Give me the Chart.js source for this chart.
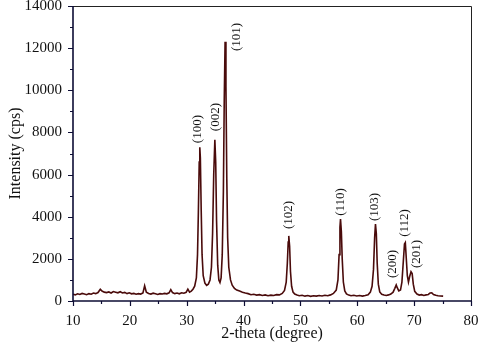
<!DOCTYPE html>
<html lang="en">
<head>
<meta charset="utf-8">
<title>XRD pattern</title>
<script src="https://cdn.jsdelivr.net/npm/chart.js"></script>
<style>
  html, body { margin: 0; padding: 0; background: #fff; }
  #xrdChart { display: block; }
</style>
</head>
<body>
<canvas id="xrdChart" width="478" height="352"></canvas>
<script>
const twoTheta = [
  10.0, 10.4, 10.8, 11.2, 11.6, 12.0, 12.4, 12.8, 13.2, 13.6, 14.0, 14.4, 14.8, 15.1, 15.5, 15.9,
  16.3, 16.7, 17.1, 17.5, 17.9, 18.3, 18.7, 19.1, 19.5, 19.9, 20.3, 20.7, 21.1, 21.5, 21.9, 22.3,
  22.6, 22.9, 23.3, 23.7, 24.1, 24.5, 24.9, 25.3, 25.7, 26.1, 26.5, 26.9, 27.2, 27.5, 27.9, 28.3,
  28.7, 29.1, 29.5, 29.9, 30.2, 30.5, 30.8, 31.1, 31.4, 31.7, 31.9, 32.05, 32.2, 32.3, 32.4, 32.55,
  32.7, 32.9, 33.2, 33.5, 33.8, 34.1, 34.35, 34.55, 34.75, 34.95, 35.1, 35.25, 35.45, 35.65, 35.85,
  36.05, 36.25, 36.45, 36.6, 36.75, 36.9, 37.05, 37.2, 37.4, 37.7, 38.0, 38.4, 38.8, 39.3, 39.8,
  40.3, 40.8, 41.3, 41.8, 42.3, 42.8, 43.3, 43.8, 44.3, 44.8, 45.3, 45.8, 46.3, 46.8, 47.2, 47.5,
  47.7, 47.85, 47.95, 48.1, 48.25, 48.45, 48.7, 49.0, 49.4, 49.8, 50.3, 50.8, 51.3, 51.8, 52.3,
  52.8, 53.3, 53.8, 54.3, 54.8, 55.3, 55.8, 56.3, 56.6, 56.8, 56.95, 57.05, 57.2, 57.35, 57.55,
  57.8, 58.1, 58.5, 58.9, 59.4, 59.9, 60.4, 60.9, 61.4, 61.9, 62.3, 62.6, 62.85, 63.05, 63.2,
  63.35, 63.5, 63.7, 63.95, 64.3, 64.7, 65.1, 65.5, 65.9, 66.3, 66.6, 66.85, 67.05, 67.3, 67.6,
  67.85, 68.1, 68.3, 68.45, 68.6, 68.8, 69.0, 69.2, 69.45, 69.65, 69.85, 70.1, 70.5, 70.9, 71.3,
  71.7, 72.1, 72.5, 72.8, 73.1, 73.4, 73.8, 74.2, 74.6, 75.1
];
const intensity = [
  320, 290, 340, 310, 360, 330, 300, 350, 320, 380, 350, 400, 560, 470, 420, 400,
  430, 380, 450, 420, 390, 440, 380, 410, 350, 390, 340, 360, 320, 350, 330, 380,
  720, 420, 360, 330, 370, 340, 310, 350, 330, 360, 340, 390, 540, 400, 350, 380,
  340, 390, 370, 410, 560, 420, 470, 560, 700, 1100, 2200, 4200, 6600, 7300, 6800, 4300,
  2200, 1200, 850, 740, 800, 1000, 1600, 3200, 6000, 7650, 6600, 3800, 1700, 1000, 880,
  1100, 2200, 5200, 9500, 12300, 10200, 5800, 3000, 1600, 1000, 750, 600, 520, 470, 420,
  380, 350, 300, 320, 280, 300, 260, 290, 250, 280, 260, 300, 290, 360, 500, 900,
  1800, 2800, 3090, 2600, 1400, 700, 420, 330, 280, 250, 270, 230, 260, 220, 250,
  230, 260, 240, 270, 250, 290, 360, 520, 1000, 2200, 3500, 3890, 3300, 2000, 900,
  480, 340, 280, 250, 270, 240, 260, 230, 260, 300, 420, 700, 1500, 3000, 3650,
  3200, 1800, 800, 430, 320, 280, 260, 290, 330, 420, 600, 760, 620, 480, 520,
  900, 1900, 2700, 2770, 2100, 1200, 900, 1150, 1390, 1300, 800, 460, 330, 280, 300,
  260, 290, 310, 380, 390, 310, 270, 250, 240, 230
];

// Miller indices and where their labels sit (2-theta, intensity at label centre)
const peakLabels = ['(100)', '(002)', '(101)', '(102)', '(110)', '(103)', '(200)', '(112)', '(201)'];
const labelTheta = [31.9, 35.1, 38.7, 48.0, 57.1, 63.1, 66.2, 68.4, 70.45];
const labelIntensity = [8160, 8730, 12530, 4080, 4700, 4460, 1760, 3700, 2230];

const xTicks = [10, 20, 30, 40, 50, 60, 70, 80];
const yTicks = [0, 2000, 4000, 6000, 8000, 10000, 12000, 14000];

const serif = '"Liberation Serif", "DejaVu Serif", serif';
const axisColor = '#0d0d35';

// frame, major/minor ticks and the peak labels
const xrdDecor = {
    id: 'xrdDecor',
    afterDatasetsDraw(chart) {
        const { ctx, chartArea: a, scales: { x, y } } = chart;
        ctx.save();

        // top and right frame
        ctx.strokeStyle = '#222';
        ctx.lineWidth = 1;
        ctx.beginPath();
        ctx.moveTo(a.left, a.top + 0.5);
        ctx.lineTo(a.right + 0.5, a.top + 0.5);
        ctx.lineTo(a.right + 0.5, a.bottom);
        ctx.stroke();

        // left and bottom axes
        ctx.strokeStyle = axisColor;
        ctx.lineWidth = 1.6;
        ctx.beginPath();
        ctx.moveTo(a.left, a.top);
        ctx.lineTo(a.left, a.bottom);
        ctx.lineTo(a.right + 1, a.bottom);
        ctx.stroke();

        // tick marks
        ctx.lineWidth = 1.2;
        ctx.beginPath();
        for (let v = 10; v <= 80; v += 5) {
            const px = Math.round(x.getPixelForValue(v)) + 0.5;
            const len = v % 10 === 0 ? 5 : 3;
            ctx.moveTo(px, a.bottom);
            ctx.lineTo(px, a.bottom + len);
        }
        for (let v = 0; v <= 14000; v += 1000) {
            const py = Math.round(y.getPixelForValue(v)) + 0.5;
            const len = v % 2000 === 0 ? 5 : 3;
            ctx.moveTo(a.left, py);
            ctx.lineTo(a.left - len, py);
        }
        ctx.stroke();

        // peak labels, rotated
        ctx.fillStyle = '#111';
        ctx.font = '13px ' + serif;
        ctx.textAlign = 'center';
        ctx.textBaseline = 'middle';
        peakLabels.forEach((txt, i) => {
            const px = x.getPixelForValue(labelTheta[i]);
            const py = y.getPixelForValue(labelIntensity[i]);
            ctx.save();
            ctx.translate(px, py);
            ctx.rotate(-Math.PI / 2);
            ctx.fillText(txt, 0, 0);
            ctx.restore();
        });

        ctx.restore();
    }
};

const ctx = document.getElementById('xrdChart').getContext('2d');
new Chart(ctx, {
    type: 'line',
    data: {
        datasets: [{
            data: twoTheta.map((t, i) => ({ x: t, y: intensity[i] })),
            borderColor: '#4a0b0b',
            borderWidth: 1.6,
            pointRadius: 0,
            tension: 0,
            fill: false
        }]
    },
    options: {
        responsive: false,
        animation: false,
        layout: { padding: { top: 6, right: 7, left: 0, bottom: 0 } },
        plugins: {
            legend: { display: false },
            tooltip: { enabled: false }
        },
        scales: {
            x: {
                type: 'linear',
                min: 10,
                max: 80,
                afterBuildTicks: (s) => { s.ticks = xTicks.map(v => ({ value: v })); },
                afterFit: (s) => {
                    s.height = 51;
                    s.paddingLeft = 0;
                    s.paddingRight = 0;
                },
                grid: { display: false, drawTicks: false },
                border: { display: false },
                ticks: {
                    color: '#111',
                    padding: 11,
                    maxRotation: 0,
                    callback: (v) => String(v),
                    font: { family: serif, size: 15 }
                },
                title: {
                    display: true,
                    text: '2-theta (degree)',
                    color: '#111',
                    padding: { top: 0, bottom: 9 },
                    font: { family: serif, size: 16 }
                }
            },
            y: {
                min: 0,
                max: 14000,
                afterBuildTicks: (s) => { s.ticks = yTicks.map(v => ({ value: v })); },
                afterFit: (s) => {
                    s.width = 73;
                    s.paddingTop = 0;
                    s.paddingBottom = 0;
                },
                grid: { display: false, drawTicks: false },
                border: { display: false },
                ticks: {
                    color: '#111',
                    padding: 11,
                    callback: (v) => String(v),
                    font: { family: serif, size: 15 }
                },
                title: {
                    display: true,
                    text: 'Intensity (cps)',
                    color: '#111',
                    padding: { top: 6, bottom: 0 },
                    font: { family: serif, size: 16 }
                }
            }
        }
    },
    plugins: [xrdDecor]
});
</script>
</body>
</html>
